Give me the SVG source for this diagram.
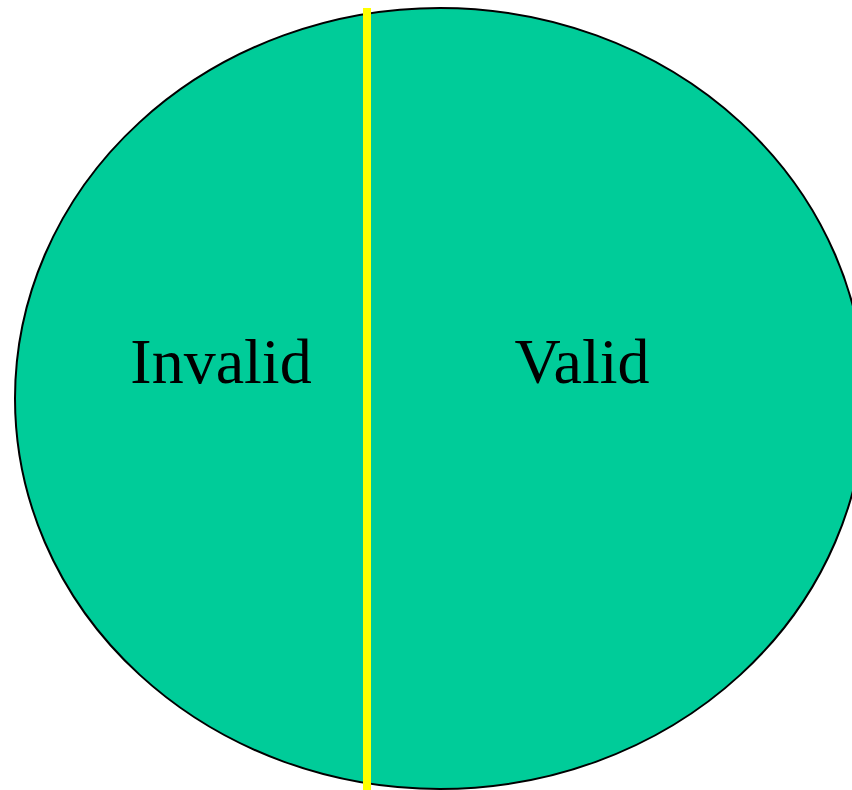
<svg xmlns="http://www.w3.org/2000/svg" width="852" height="790" viewBox="0 0 852 790">
<style>
.lbl{font-family:"Liberation Serif","Times New Roman",serif;font-size:64px;fill:#000;text-anchor:middle}
</style>
<rect width="852" height="790" fill="#fff"/>
<g id="circle">
<ellipse cx="440" cy="398.5" rx="425" ry="390.5" fill="#00CC99" stroke="#000" stroke-width="2"/>
</g>
<g id="connectors">
<line x1="367" y1="8" x2="367" y2="790" stroke="#FFFF00" stroke-width="8"/>
</g>
<g id="invalid"><text class="lbl" x="221" y="383">Invalid</text></g>
<g id="valid"><text class="lbl" x="582" y="383">Valid</text></g>
</svg>
